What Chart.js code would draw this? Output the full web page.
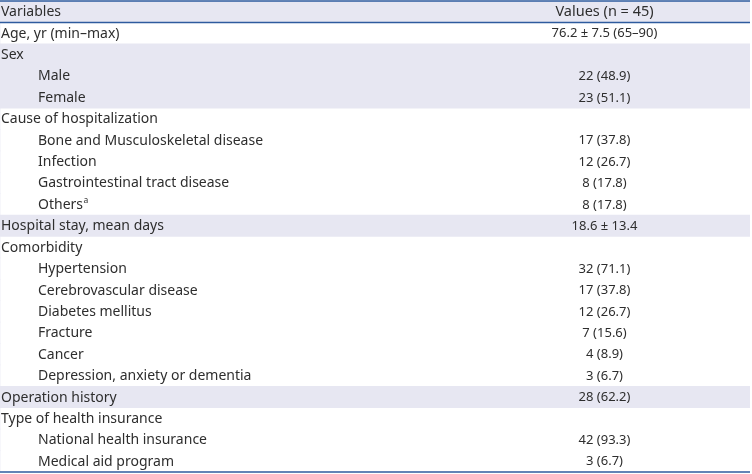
<!DOCTYPE html>
<html>
<head>
<meta charset="utf-8">
<script src="https://cdn.jsdelivr.net/npm/chart.js@4.4.1/dist/chart.umd.min.js"></script>
<style>
html,body{margin:0;padding:0;background:#fff;}
#wrap{width:752px;height:474px;}
</style>
</head>
<body>
<div id="wrap"><canvas id="c" width="752" height="474"></canvas></div>
<script>
// ---- data ----
const headerLabels = ["Variables", "Values (n = 45)"];
const rowLabels = [
  "Age, yr (min–max)", "Sex", "Male", "Female", "Cause of hospitalization",
  "Bone and Musculoskeletal disease", "Infection", "Gastrointestinal tract disease", "Others",
  "Hospital stay, mean days", "Comorbidity", "Hypertension", "Cerebrovascular disease",
  "Diabetes mellitus", "Fracture", "Cancer", "Depression, anxiety or dementia",
  "Operation history", "Type of health insurance", "National health insurance", "Medical aid program"
];
const rowLevels = [0,0,1,1,0,1,1,1,1,0,0,1,1,1,1,1,1,0,0,1,1];
const rowValues = [
  "76.2 ± 7.5 (65–90)", "", "22 (48.9)", "23 (51.1)", "",
  "17 (37.8)", "12 (26.7)", "8 (17.8)", "8 (17.8)",
  "18.6 ± 13.4", "", "32 (71.1)", "17 (37.8)",
  "12 (26.7)", "7 (15.6)", "4 (8.9)", "3 (6.7)",
  "28 (62.2)", "", "42 (93.3)", "3 (6.7)"
];
const footnoteMarks = ["", "", "", "", "", "", "", "", "a", "", "", "", "", "", "", "", "", "", "", "", ""];

// derived: categories (header + rows), shading by alternating top-level group
const categories = [headerLabels[0]].concat(rowLabels);
const shade = [1];
let grp = 0;
rowLevels.forEach((lv, i) => { if (lv === 0) grp++; shade.push(grp % 2 === 0 ? 1 : 0); });

const LFONT = '14px "Noto Sans", "Open Sans", sans-serif';
const HFONT = '14.5px "Noto Sans", "Open Sans", sans-serif';
const VFONT = '13px "Noto Sans", "Open Sans", sans-serif';
const SUPFONT = '8.5px "Noto Sans", "Open Sans", sans-serif';
const TXT = '#2e2e2e';
const LINE = '#2e5b9e';

const tablePlugin = {
  id: 'tableText',
  afterDatasetsDraw(chart) {
    const ctx = chart.ctx;
    const y = chart.scales.y, x = chart.scales.x;
    const left = chart.chartArea.left, right = chart.chartArea.right;
    const valX = x.getPixelForValue(0.806);
    ctx.save();
    ctx.fillStyle = TXT;
    ctx.textBaseline = 'middle';
    // header
    const hy = y.getPixelForValue(0);
    ctx.font = LFONT;
    ctx.textAlign = 'left';
    ctx.fillText(headerLabels[0], left + 1, hy + 0.5);
    ctx.font = HFONT;
    ctx.textAlign = 'center';
    ctx.fillText(headerLabels[1], valX, hy + 0.5);
    rowLabels.forEach((lab, i) => {
      const py = y.getPixelForValue(i + 1) + 0.5;
      const lx = left + 1 + rowLevels[i] * 37;
      ctx.font = LFONT;
      ctx.textAlign = 'left';
      ctx.fillText(lab, lx, py);
      if (footnoteMarks[i]) {
        const w = ctx.measureText(lab).width;
        ctx.font = SUPFONT;
        ctx.fillText(footnoteMarks[i], lx + w + 0.5, py - 4);
      }
      if (rowValues[i]) {
        ctx.font = VFONT;
        ctx.textAlign = 'center';
        ctx.fillText(rowValues[i], valX, py);
      }
    });
    // rules
    ctx.strokeStyle = LINE;
    ctx.lineWidth = 1.5;
    const top = chart.chartArea.top, bottom = chart.chartArea.bottom;
    const hb = (y.getPixelForValue(0) + y.getPixelForValue(1)) / 2;
    [top, hb, bottom].forEach(v => {
      ctx.beginPath(); ctx.moveTo(left, v); ctx.lineTo(right, v); ctx.stroke();
    });
    ctx.restore();
  }
};

new Chart(document.getElementById('c'), {
  type: 'bar',
  data: {
    labels: categories,
    datasets: [{
      data: shade,
      backgroundColor: '#e7e7f2',
      borderWidth: 0,
      barPercentage: 1,
      categoryPercentage: 1
    }]
  },
  options: {
    indexAxis: 'y',
    responsive: false,
    animation: false,
    devicePixelRatio: 1,
    layout: { padding: { left: 0, right: 2, top: 1, bottom: 2 } },
    plugins: { legend: { display: false }, tooltip: { enabled: false } },
    scales: {
      x: { display: false, min: 0, max: 1 },
      y: { display: false }
    }
  },
  plugins: [tablePlugin]
});
</script>
</body>
</html>
